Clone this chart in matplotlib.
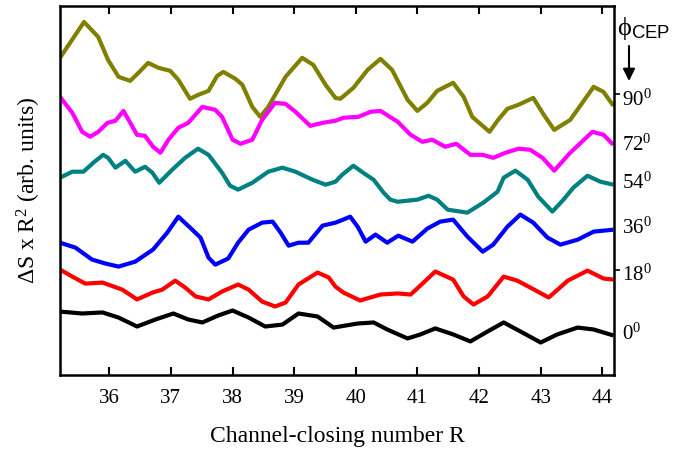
import matplotlib
matplotlib.use("Agg")
import matplotlib.pyplot as plt
import numpy as np

plt.rcParams['font.family'] = ['Liberation Serif', 'DejaVu Serif']
plt.rcParams['mathtext.fontset'] = 'custom'
plt.rcParams['mathtext.rm'] = 'Liberation Serif'
plt.rcParams['mathtext.it'] = 'Liberation Serif:italic'
plt.rcParams['mathtext.sf'] = 'Liberation Sans'

# ---- data (arbitrary units) ----
x90 = [35.20, 35.59, 35.82, 35.98, 36.15, 36.34, 36.47, 36.63, 36.80, 36.99, 37.12, 37.31, 37.44, 37.61,
       37.75, 37.85, 38.05, 38.16, 38.32, 38.45, 38.58, 38.86, 39.13, 39.31, 39.51, 39.67, 39.75, 39.96,
       40.19, 40.40, 40.59, 40.84, 41.00, 41.16, 41.32, 41.58, 41.75, 41.89, 42.17, 42.31, 42.46, 42.64,
       42.88, 43.05, 43.22, 43.48, 43.86, 44.02, 44.18]
y90 = [1.205, 1.409, 1.324, 1.193, 1.097, 1.074, 1.119, 1.176, 1.148, 1.131, 1.080, 0.972, 0.994, 1.017,
       1.102, 1.125, 1.085, 1.051, 0.926, 0.869, 0.926, 1.097, 1.205, 1.165, 1.051, 0.977, 0.972, 1.034,
       1.136, 1.199, 1.136, 0.966, 0.903, 0.949, 1.017, 1.063, 0.983, 0.869, 0.784, 0.852, 0.915, 0.938,
       0.977, 0.881, 0.795, 0.852, 1.040, 1.011, 0.932]

x72 = [35.20, 35.40, 35.56, 35.69, 35.82, 35.97, 36.10, 36.23, 36.34, 36.45, 36.58, 36.71, 36.83, 36.96,
       37.12, 37.28, 37.51, 37.72, 37.83, 38.00, 38.13, 38.32, 38.48, 38.69, 38.86, 39.02, 39.26, 39.46,
       39.67, 39.80, 40.04, 40.24, 40.40, 40.68, 40.89, 41.08, 41.24, 41.45, 41.63, 41.86, 42.06, 42.23,
       42.43, 42.64, 42.83, 43.03, 43.22, 43.48, 43.84, 44.02, 44.18]
y72 = [0.983, 0.892, 0.784, 0.756, 0.784, 0.835, 0.847, 0.903, 0.835, 0.767, 0.761, 0.699, 0.665, 0.739,
       0.807, 0.835, 0.926, 0.909, 0.869, 0.739, 0.716, 0.739, 0.852, 0.949, 0.943, 0.898, 0.818, 0.835,
       0.847, 0.864, 0.869, 0.898, 0.903, 0.841, 0.767, 0.727, 0.739, 0.699, 0.716, 0.653, 0.653, 0.636,
       0.665, 0.688, 0.682, 0.636, 0.563, 0.665, 0.784, 0.767, 0.710]

x54 = [35.20, 35.40, 35.58, 35.74, 35.90, 35.98, 36.10, 36.26, 36.42, 36.58, 36.70, 36.81, 37.02, 37.23,
       37.44, 37.61, 37.83, 37.96, 38.09, 38.32, 38.58, 38.81, 39.02, 39.30, 39.51, 39.67, 39.78, 39.96,
       40.12, 40.29, 40.45, 40.56, 40.68, 41.00, 41.18, 41.32, 41.49, 41.81, 42.07, 42.30, 42.40, 42.59,
       42.79, 42.96, 43.19, 43.37, 43.53, 43.76, 43.97, 44.18]
y54 = [0.523, 0.557, 0.557, 0.608, 0.653, 0.636, 0.580, 0.619, 0.557, 0.585, 0.551, 0.494, 0.568, 0.636,
       0.688, 0.653, 0.551, 0.477, 0.455, 0.494, 0.557, 0.580, 0.557, 0.511, 0.483, 0.500, 0.540, 0.591,
       0.551, 0.511, 0.438, 0.398, 0.386, 0.398, 0.420, 0.398, 0.341, 0.324, 0.381, 0.443, 0.523, 0.563,
       0.511, 0.415, 0.330, 0.398, 0.466, 0.534, 0.500, 0.483]

x36 = [35.20, 35.45, 35.72, 35.94, 36.15, 36.42, 36.71, 36.94, 37.12, 37.31, 37.48, 37.61, 37.72, 37.93,
       38.09, 38.26, 38.48, 38.65, 38.78, 38.91, 39.07, 39.23, 39.46, 39.67, 39.75, 39.91, 40.03, 40.16,
       40.32, 40.51, 40.69, 40.92, 41.16, 41.37, 41.58, 41.81, 42.06, 42.23, 42.46, 42.67, 42.88, 43.11,
       43.32, 43.60, 43.86, 44.18]
y36 = [0.153, 0.125, 0.057, 0.034, 0.017, 0.045, 0.114, 0.210, 0.301, 0.239, 0.182, 0.068, 0.028, 0.063,
       0.153, 0.227, 0.267, 0.273, 0.210, 0.136, 0.153, 0.153, 0.250, 0.267, 0.278, 0.301, 0.244, 0.159,
       0.199, 0.153, 0.193, 0.159, 0.233, 0.273, 0.284, 0.188, 0.102, 0.142, 0.244, 0.313, 0.267, 0.182,
       0.142, 0.170, 0.216, 0.227]

x18 = [35.20, 35.40, 35.61, 35.89, 36.21, 36.45, 36.70, 36.86, 37.07, 37.23, 37.40, 37.61, 37.83, 38.09,
       38.26, 38.48, 38.69, 38.86, 39.07, 39.38, 39.56, 39.67, 39.80, 40.07, 40.40, 40.68, 40.89, 41.10,
       41.29, 41.58, 41.75, 41.91, 42.14, 42.40, 42.62, 42.83, 43.13, 43.44, 43.76, 44.02, 44.18]
y18 = [0.000, -0.040, -0.080, -0.074, -0.114, -0.170, -0.131, -0.114, -0.063, -0.102, -0.153, -0.170,
       -0.125, -0.085, -0.114, -0.182, -0.210, -0.188, -0.085, -0.017, -0.045, -0.097, -0.131, -0.176,
       -0.142, -0.136, -0.142, -0.074, -0.011, -0.057, -0.153, -0.199, -0.153, -0.040, -0.063, -0.102,
       -0.159, -0.063, -0.006, -0.051, -0.057]

x0 = [35.20, 35.56, 35.89, 36.15, 36.45, 36.75, 37.04, 37.28, 37.51, 37.77, 38.00, 38.26, 38.53, 38.81,
      39.07, 39.38, 39.64, 40.03, 40.29, 40.51, 40.84, 41.05, 41.29, 41.58, 41.86, 42.14, 42.40, 42.67,
      43.00, 43.27, 43.60, 43.86, 44.18]
y0 = [-0.239, -0.250, -0.244, -0.273, -0.324, -0.284, -0.250, -0.284, -0.301, -0.261, -0.233, -0.273,
      -0.324, -0.313, -0.250, -0.267, -0.330, -0.307, -0.301, -0.341, -0.392, -0.369, -0.335, -0.369,
      -0.409, -0.352, -0.301, -0.352, -0.415, -0.369, -0.330, -0.341, -0.375]

series = [(x90, y90, '#808000', '90$^0$'),
          (x72, y72, '#ff00ff', '72$^0$'),
          (x54, y54, '#008080', '54$^0$'),
          (x36, y36, '#0000ff', '36$^0$'),
          (x18, y18, '#ff0000', '18$^0$'),
          (x0, y0, '#000000', '0$^0$')]
label_y = [0.965, 0.710, 0.489, 0.233, -0.034, -0.369]

xticks = [36, 37, 38, 39, 40, 41, 42, 43, 44]

fig = plt.figure(figsize=(6.82, 4.50), dpi=100)
ax = fig.add_axes([60/682, 75/450, 554/682, 369/450])

for (xs, ys, c, lab) in series:
    ax.plot(xs, ys, color=c, lw=3.0, solid_joinstyle='round', solid_capstyle='butt')

ax.set_xlim(35.2, 44.19)
ax.set_ylim(-0.6, 1.5)
ax.set_xticks(xticks)
ax.set_xticklabels([str(t) for t in xticks])
ax.tick_params(axis='x', which='both', direction='in', top=True, bottom=True,
               length=6, width=1.5, labelsize=15, pad=10)
ax.set_yticks([0, 1])
ax.tick_params(axis='y', left=False, right=True, labelleft=False, labelright=False,
               direction='out', length=4, width=1.2)
for s in ax.spines.values():
    s.set_linewidth(1.8)

ax.set_xlabel('Channel-closing number R', fontsize=17, labelpad=13)
ax.set_ylabel(r'ΔS x R$^2$ (arb. units)', fontsize=17, labelpad=12)

trans = matplotlib.transforms.blended_transform_factory(ax.transAxes, ax.transData)
for (xs, ys, c, lab), ly in zip(series, label_y):
    ax.text(1.014, ly, lab, transform=trans, fontsize=15, va='center', ha='left', clip_on=False)

fig.text(617/682, 1 - 29/450, r'ϕ$_{\mathsf{CEP}}$', fontsize=19, ha='left', va='center')
ax.annotate('', xy=(629/682, 1 - 81/450), xytext=(629/682, 1 - 46/450),
            xycoords='figure fraction', textcoords='figure fraction',
            arrowprops=dict(arrowstyle='-|>', color='black', lw=1.5, mutation_scale=18,
                            shrinkA=0, shrinkB=0))

fig.savefig('out.png', dpi=100)
